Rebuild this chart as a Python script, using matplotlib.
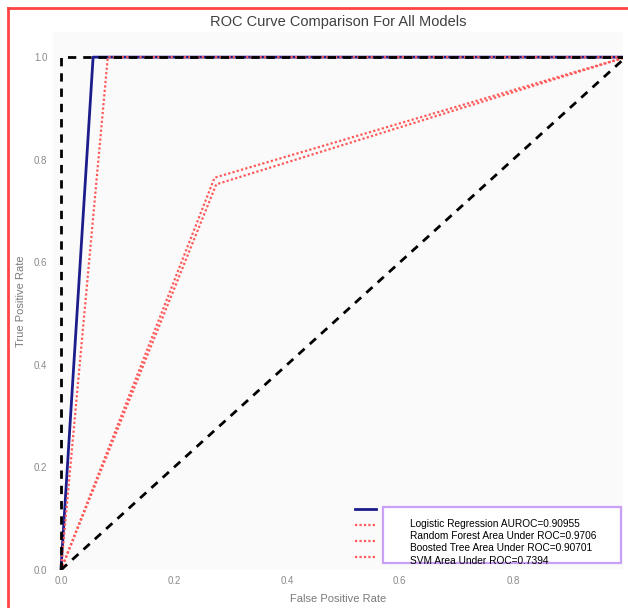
import matplotlib
matplotlib.use("Agg")
import matplotlib.pyplot as plt
from matplotlib.lines import Line2D
from matplotlib.patches import Rectangle

plt.rcParams['font.family'] = ['Liberation Sans', 'DejaVu Sans']

# ROC data
lr_fpr = [0.0, 0.057, 1.0]
lr_tpr = [0.0, 1.0, 1.0]
rf_fpr = [0.0, 0.083, 1.0]
rf_tpr = [0.0, 1.0, 1.0]
bt_fpr = [0.0, 0.272, 1.0]
bt_tpr = [0.0, 0.765, 1.0]
svm_fpr = [0.0, 0.275, 1.0]
svm_tpr = [0.0, 0.752, 1.0]
perfect_fpr = [0.0, 0.0, 1.0]
perfect_tpr = [0.0, 1.0, 1.0]
chance = [0.0, 1.0]

labels = ["Logistic Regression AUROC=0.90955",
          "Random Forest Area Under ROC=0.9706",
          "Boosted Tree Area Under ROC=0.90701",
          "SVM Area Under ROC=0.7394"]
xticks = [0.0, 0.2, 0.4, 0.6, 0.8]
yticks = [0.0, 0.2, 0.4, 0.6, 0.8, 1.0]

fig = plt.figure(figsize=(6.28, 6.08), dpi=100)
fig.patch.set_facecolor('white')
ax = fig.add_axes([53/628, 1-570/608, (623-53)/628, (570-32)/608])
ax.set_facecolor('#fafafa')
for s in ax.spines.values():
    s.set_visible(False)

red = '#ff5a5a'
h1, = ax.plot(lr_fpr, lr_tpr, color='#1c1c8c', lw=2)
h2, = ax.plot(rf_fpr, rf_tpr, color=red, lw=1.6, ls=(0, (1, 1)))
h3, = ax.plot(bt_fpr, bt_tpr, color=red, lw=1.6, ls=(0, (1, 1)))
h4, = ax.plot(svm_fpr, svm_tpr, color=red, lw=1.6, ls=(0, (1, 1)))
ax.plot(perfect_fpr, perfect_tpr, color='black', lw=2, ls=(0, (3, 2.5)))
ax.plot(chance, chance, color='black', lw=2, ls=(0, (3, 2.5)))

ax.set_xlim(-0.014, 0.995)
ax.set_ylim(0.0, 1.049)
ax.set_xticks(xticks)
ax.set_yticks(yticks)
ax.tick_params(length=0, labelsize=7, labelcolor='#8a8a8a', pad=4)
ax.set_xlabel('False Positive Rate', fontsize=8, color='#7a7a7a', labelpad=6)
ax.set_ylabel('True Positive Rate', fontsize=8, color='#7a7a7a', labelpad=6)
ax.set_title('ROC Curve Comparison For All Models', fontsize=10.5, color='#404040', pad=4)

# handles-only legend (outside the frame, as in the reference)
leg1 = ax.legend([h1, h2, h3, h4], ['', '', '', ''], frameon=False,
                 loc='upper left', bbox_to_anchor=(302/570, (570-505)/538),
                 bbox_transform=ax.transAxes, handlelength=1.9, handletextpad=0,
                 labelspacing=0.55, fontsize=8, borderpad=0, borderaxespad=0)
ax.add_artist(leg1)

# legend frame drawn separately
ax.add_patch(Rectangle((330/570, 7/538), 238/570, 56/538, transform=ax.transAxes,
                       facecolor='white', edgecolor='#c9a0f5', lw=1.6, zorder=4))

blank = [Line2D([], [], color='none') for _ in labels]
leg2 = ax.legend(blank, labels, loc='upper left', fontsize=7.3, frameon=False,
                 bbox_to_anchor=(357/570, (570-519)/538), bbox_transform=ax.transAxes,
                 handlelength=0, handletextpad=0, labelspacing=0.22,
                 borderpad=0, borderaxespad=0)
leg2.set_zorder(5)
for t in leg2.get_texts():
    t.set_color('#000000')

# red screenshot border (top and left)
fig.add_artist(Line2D([8/628, 8/628], [0, 1-8/608], transform=fig.transFigure, color='#ff4444', lw=2))
fig.add_artist(Line2D([8/628, 1], [1-8/608, 1-8/608], transform=fig.transFigure, color='#ff4444', lw=2))

fig.savefig('out.png', dpi=100)
